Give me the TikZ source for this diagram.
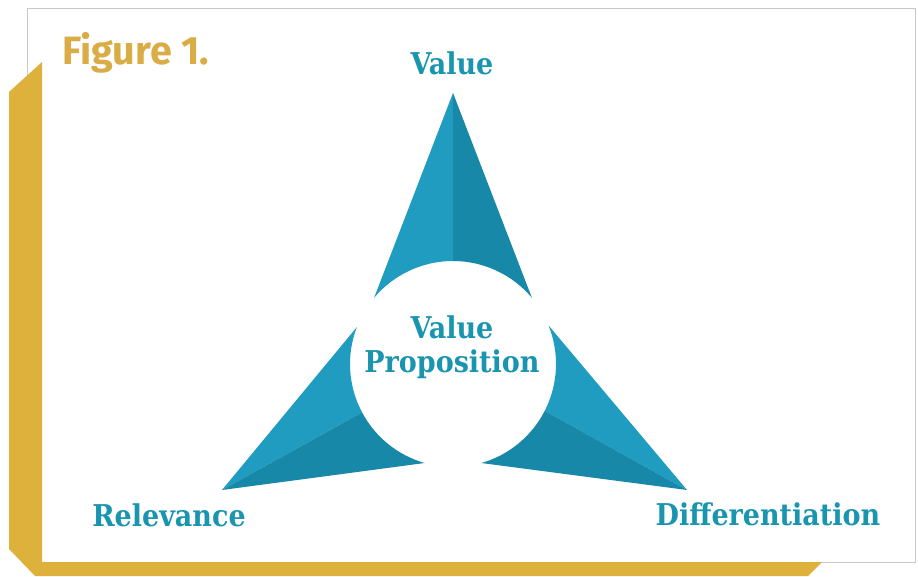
\documentclass[tikz,border=0pt]{standalone}
\usepackage{fontspec}
\usetikzlibrary{calc}
\newfontfamily\slabfont{DejaVu Serif Condensed Bold}
\newfontfamily\headfont{Fira Sans}
\definecolor{gold}{HTML}{DDB13B}
\definecolor{headgold}{HTML}{D9AC45}
\definecolor{tealtext}{HTML}{1A95B0}
\definecolor{teallight}{HTML}{1F9CBF}
\definecolor{tealdark}{HTML}{1888A8}
\definecolor{panelline}{HTML}{C8C8C8}
\tikzset{
  label text/.style={font=\slabfont\fontsize{30}{34}\selectfont, text=tealtext, inner sep=0pt},
  light face/.style={fill=teallight, draw=none},
  dark face/.style={fill=tealdark, draw=none},
}
\begin{document}
\begin{tikzpicture}[x=1pt,y=-1pt]
  \useasboundingbox (0,0) rectangle (918,576);
  \fill[white] (0,0) rectangle (918,576);

  % white card with thin grey rim
  \draw[panelline, line width=0.8pt, fill=white] (27,8) rectangle (915,562);
  % gold frame along the left and bottom edges
  \fill[gold] (9,92) -- (42,62) -- (42,562) -- (822,562) -- (808,576)
              -- (35,576) -- (9,549) -- cycle;

  % heading
  \node[anchor=base west, inner sep=0pt, text=headgold,
        font=\headfont\bfseries\fontsize{39.5}{42}\selectfont] (fig) at (62,64) {Figure 1.};

  % centre of the circular cut-out and the three tips
  \coordinate (C) at (453,364);
  \def\rad{103}
  \coordinate (topTip) at (453,93);
  \coordinate (leftTip) at (222,490);
  \coordinate (rightTip) at (687,490);

  % upper wedge
  \fill[light face] (topTip) -- ($(C)+(-140:\rad)$)
        arc[start angle=-140, end angle=-90, radius=\rad] -- cycle;
  \fill[dark face] (topTip) -- ($(C)+(-90:\rad)$)
        arc[start angle=-90, end angle=-40, radius=\rad] -- cycle;

  % lower left wedge
  \fill[light face] (leftTip) -- ($(C)+(201:\rad)$)
        arc[start angle=201, end angle=152, radius=\rad] -- cycle;
  \fill[dark face] (leftTip) -- ($(C)+(152:\rad)$)
        arc[start angle=152, end angle=106, radius=\rad] -- cycle;

  % lower right wedge
  \fill[light face] (rightTip) -- ($(C)+(-22:\rad)$)
        arc[start angle=-22, end angle=27, radius=\rad] -- cycle;
  \fill[dark face] (rightTip) -- ($(C)+(27:\rad)$)
        arc[start angle=27, end angle=74, radius=\rad] -- cycle;

  % labels
  \node[label text, anchor=base] (value) at (452,74) {Value};
  \node[label text, anchor=base] (vp1) at (452,338) {Value};
  \node[label text, anchor=base] (vp2) at (452,372) {Proposition};
  \node[label text, anchor=base] (rel) at (169,526) {Relevance};
  \node[label text, anchor=base] (diff) at (768,525) {Differentiation};
\end{tikzpicture}
\end{document}
